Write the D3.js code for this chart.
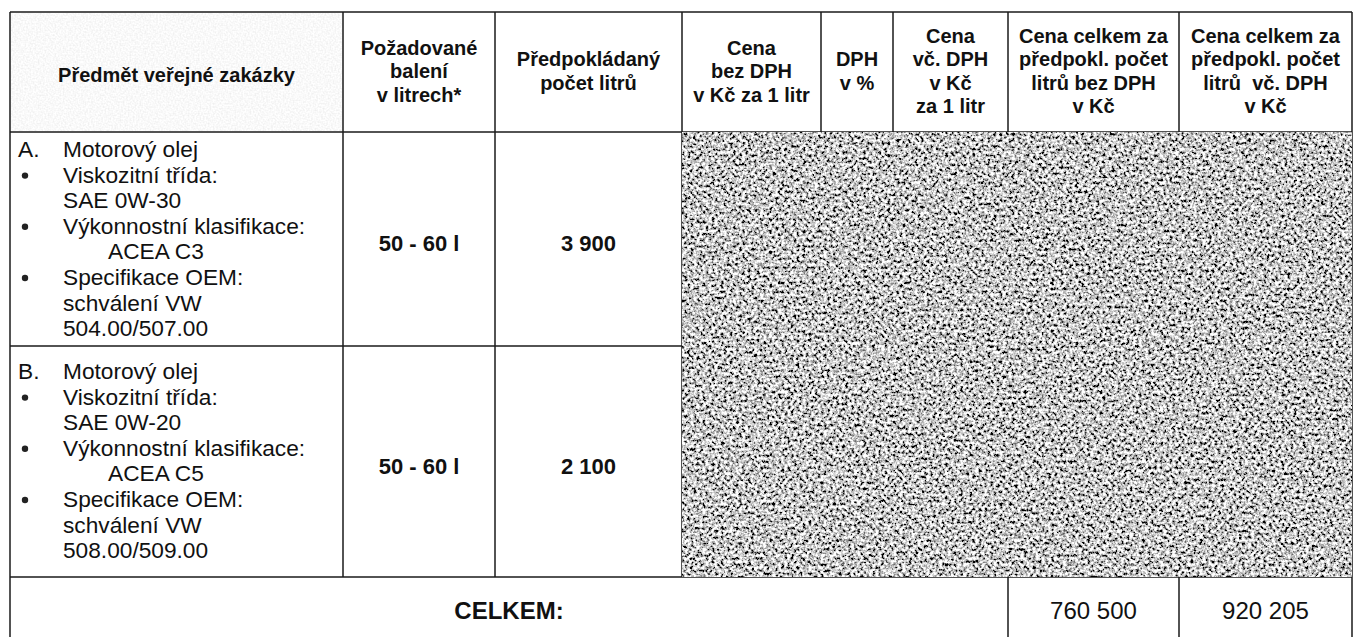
<!DOCTYPE html>
<html>
<head>
<meta charset="utf-8">
<script src="https://cdn.jsdelivr.net/npm/d3@7"></script>
<style>
  html, body { margin: 0; padding: 0; background: #fff; }
  svg { display: block; }
  text { font-family: Arial, "Liberation Sans", sans-serif; fill: #111; white-space: pre; }
</style>
</head>
<body>
<svg id="chart" width="1353" height="637"></svg>
<script>
// ---------- data ----------
const headers = [
  ["Předmět veřejné zakázky"],
  ["Požadované", "balení", "v litrech*"],
  ["Předpokládaný", "počet litrů"],
  ["Cena", "bez DPH", "v Kč za 1 litr"],
  ["DPH", "v %"],
  ["Cena", "vč. DPH", "v Kč", "za 1 litr"],
  ["Cena celkem za", "předpokl. počet", "litrů bez DPH", "v Kč"],
  ["Cena celkem za", "předpokl. počet", "litrů  vč. DPH", "v Kč"]
];
const itemLetters = ["A.", "B."];
const itemNames = ["Motorový olej", "Motorový olej"];
const viscosity = ["SAE 0W-30", "SAE 0W-20"];
const performance = ["ACEA C3", "ACEA C5"];
const oemSpec = ["504.00/507.00", "508.00/509.00"];
const packaging = ["50 - 60 l", "50 - 60 l"];
const liters = [3900, 2100];
const totalLabel = "CELKEM:";
const totals = [760500, 920205];

// ---------- layout ----------
const colWidths = [333, 152, 187, 139, 72, 115, 171, 173];
const rowHeights = [120, 214, 231, 90];
const x0 = 10, y0 = 12;
const colEdges = [x0, ...d3.cumsum(colWidths).map(d => d + x0)];
const rowEdges = [y0, ...d3.cumsum(rowHeights).map(d => d + y0)];
const col = d3.scaleOrdinal().domain(d3.range(colEdges.length)).range(colEdges);
const row = d3.scaleOrdinal().domain(d3.range(rowEdges.length)).range(rowEdges);

const fmt = d3.formatLocale({decimal: ",", thousands: " ", grouping: [3], currency: ["", " Kč"]}).format(",d");

const svg = d3.select("#chart");
const defs = svg.append("defs");

// redaction noise
const f = defs.append("filter").attr("id", "noise")
  .attr("x", 0).attr("y", 0).attr("width", 1).attr("height", 1)
  .attr("filterUnits", "objectBoundingBox");
f.append("feTurbulence").attr("type", "fractalNoise").attr("baseFrequency", "0.33")
  .attr("numOctaves", 3).attr("seed", 7).attr("result", "t");
f.append("feColorMatrix").attr("in", "t").attr("type", "matrix")
  .attr("values", "2.9 0 0 0 -0.88  2.9 0 0 0 -0.88  2.9 0 0 0 -0.88  0 0 0 0 1");

const light = defs.append("filter").attr("id", "lightnoise")
  .attr("x", 0).attr("y", 0).attr("width", 1).attr("height", 1);
light.append("feTurbulence").attr("type", "fractalNoise").attr("baseFrequency", "0.6")
  .attr("numOctaves", 1).attr("seed", 3).attr("result", "t");
light.append("feColorMatrix").attr("in", "t").attr("type", "matrix")
  .attr("values", "0.3 0 0 0 0.8  0.3 0 0 0 0.8  0.3 0 0 0 0.8  0 0 0 0 1");

// header col 1 faint scan background
svg.append("rect")
  .attr("x", col(0) + 1).attr("y", row(0) + 1)
  .attr("width", col(1) - col(0) - 2).attr("height", row(1) - row(0) - 2)
  .attr("filter", "url(#lightnoise)");

// ---------- grid lines ----------
const lineColor = "#1a1a1a";
const g = svg.append("g").attr("stroke", lineColor).attr("stroke-width", 1.5).attr("fill", "none");
rowEdges.slice(0, 4).forEach(y => {
  g.append("line").attr("x1", col(0)).attr("x2", col(8)).attr("y1", y).attr("y2", y);
});
colEdges.forEach((x, i) => {
  g.append("line").attr("x1", x).attr("x2", x).attr("y1", row(0)).attr("y2", row(3));
});
[0, 6, 7, 8].forEach(i => {
  g.append("line").attr("x1", col(i)).attr("x2", col(i)).attr("y1", row(3)).attr("y2", row(4));
});

// ---------- header text ----------
const headLH = 23.5;
headers.forEach((lines, i) => {
  const cx = (col(i) + col(i + 1)) / 2;
  const cy = (row(0) + row(1)) / 2 + (lines.length === 1 ? 3 : -1);
  const t = svg.append("text")
    .attr("text-anchor", "middle")
    .attr("font-size", 20).attr("font-weight", "bold");
  lines.forEach((ln, k) => {
    t.append("tspan").attr("x", cx)
      .attr("y", cy + (k - (lines.length - 1) / 2) * headLH + 7)
      .text(ln);
  });
});

// ---------- item rows ----------
const bodyLH = 25.6;
const firstLine = [149, 371];
itemLetters.forEach((letter, i) => {
  const lines = [
    {bullet: false, lead: letter, txt: itemNames[i], x: 63},
    {bullet: true, txt: "Viskozitní třída:", x: 63},
    {bullet: false, txt: viscosity[i], x: 63},
    {bullet: true, txt: "Výkonnostní klasifikace:", x: 63},
    {bullet: false, txt: performance[i], x: 108},
    {bullet: true, txt: "Specifikace OEM:", x: 63},
    {bullet: false, txt: "schválení VW", x: 63},
    {bullet: false, txt: oemSpec[i], x: 63}
  ];
  lines.forEach((l, k) => {
    const cy = firstLine[i] + k * bodyLH;
    if (l.lead) {
      svg.append("text").attr("x", 18).attr("y", cy + 8)
        .attr("font-size", 22.7).text(l.lead);
    }
    if (l.bullet) {
      svg.append("circle").attr("cx", 25).attr("cy", cy + 1).attr("r", 3.2).attr("fill", "#222");
    }
    svg.append("text").attr("x", l.x).attr("y", cy + 8)
      .attr("font-size", 22.7).text(l.txt);
  });

  const cy = (row(i + 1) + row(i + 2)) / 2 + 4;
  svg.append("text").attr("text-anchor", "middle")
    .attr("x", (col(1) + col(2)) / 2).attr("y", cy + 8)
    .attr("font-size", 22).attr("font-weight", "bold").text(packaging[i]);
  svg.append("text").attr("text-anchor", "middle")
    .attr("x", (col(2) + col(3)) / 2).attr("y", cy + 8)
    .attr("font-size", 22).attr("font-weight", "bold").text(fmt(liters[i]));
});

// redaction block over price columns
svg.append("rect")
  .attr("x", col(3)).attr("y", row(1))
  .attr("width", col(8) - col(3)).attr("height", row(3) - row(1))
  .attr("filter", "url(#noise)");

// ---------- total row ----------
const ty = 611 + 8;
svg.append("text").attr("text-anchor", "middle")
  .attr("x", (col(0) + col(6)) / 2).attr("y", ty)
  .attr("font-size", 24).attr("font-weight", "bold").text(totalLabel);
totals.forEach((v, i) => {
  svg.append("text").attr("text-anchor", "middle")
    .attr("x", (col(6 + i) + col(7 + i)) / 2).attr("y", ty)
    .attr("font-size", 24).text(fmt(v));
});
</script>
</body>
</html>
